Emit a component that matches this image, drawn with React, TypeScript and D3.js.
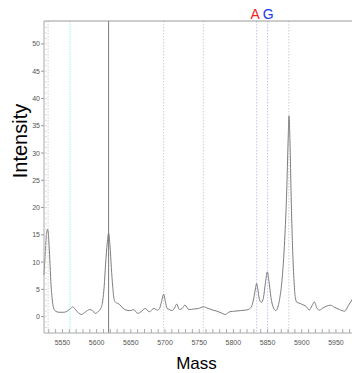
import React from "react";
import * as d3 from "d3";

// chart size
const width = 352;
const height = 373;
const margin = { top: 21, right: 0, bottom: 40, left: 44 };

// spectrum trace (mass, intensity)
const masses = [
  5523, 5525, 5527, 5528.5, 5530, 5531.5, 5533, 5535, 5537, 5540, 5545, 5552,
  5558, 5562, 5565, 5569, 5574, 5578, 5583, 5590, 5594, 5598, 5602, 5606, 5609,
  5611, 5613, 5615.5, 5617.5, 5619.5, 5621.5, 5623.5, 5625.5, 5628, 5633, 5638,
  5643, 5649, 5654, 5660, 5665, 5671, 5677, 5684, 5689, 5692, 5695, 5698,
  5700.5, 5703, 5707, 5710, 5714, 5717, 5721, 5725, 5729, 5735, 5742, 5749,
  5756, 5763, 5770, 5776, 5782, 5788, 5795, 5802, 5810, 5818, 5822, 5827, 5830,
  5832.5, 5834, 5835.5, 5838, 5841, 5844, 5847, 5849.7, 5852, 5855, 5858, 5862,
  5866, 5868, 5871, 5875, 5878, 5880, 5881.4, 5882.8, 5884.5, 5886.5, 5888.5,
  5890.6, 5893, 5898, 5903, 5907, 5911, 5915, 5918.5, 5922, 5926, 5931, 5936,
  5942, 5948, 5955, 5963, 5968, 5974,
];
const intensities = [
  7.6, 12, 15.5, 16, 14, 10.5, 6.5, 3.2, 1.6, 1.0, 0.8, 0.8,
  1.1, 1.5, 1.8, 1.3, 0.6, 0.4, 0.8, 1.3, 1.1, 0.6, 0.9, 1.5, 3.0,
  5.5, 9.5, 13.5, 15.3, 13, 9, 5.5, 3.2, 2.6, 2.3, 1.6,
  1.2, 1.1, 1.3, 0.6, 0.9, 1.5, 0.9, 1.5, 1.2, 1.5, 2.8, 4.1,
  2.8, 1.5, 1.3, 1.1, 1.6, 2.3, 1.3, 1.5, 2.1, 1.3, 1.4, 1.5,
  1.8, 1.5, 1.2, 1.0, 0.7, 0.4, 0.9, 1.0, 1.1, 1.2, 1.3, 2.0, 3.5,
  5.3, 6.1, 5.2, 3.2, 2.6, 3.5, 6.3, 8.2, 6.5, 3.5, 1.8, 1.1,
  2.2, 3.5, 6.5, 14, 23, 32, 36.8, 32, 22, 13, 7,
  3.5, 2.6, 2.4, 2.1, 1.8, 1.2, 2.0, 2.7, 1.6, 1.2, 1.6, 1.9,
  2.1, 1.7, 1.3, 1.0, 2.0, 3.2,
];

// marker lines
const markerMasses = [5529, 5561, 5617.5, 5698, 5756, 5834, 5850, 5881];
const markerKinds = ["grey", "cyan", "dark", "grey", "grey", "blue", "blue", "grey"];

// base labels above the plot
const baseLabels = ["A", "G"];
const baseMasses = [5832, 5851];
const baseColors = ["#ee2222", "#2233ee"];

const xTicks = [5550, 5600, 5650, 5700, 5750, 5800, 5850, 5900, 5950];
const yTicks = [0, 5, 10, 15, 20, 25, 30, 35, 40, 45, 50];

const lineStyle: Record<string, { stroke: string; dash: string }> = {
  grey: { stroke: "#cfcfdc", dash: "1.5,1.5" },
  cyan: { stroke: "#a8ecf0", dash: "1.5,1" },
  dark: { stroke: "#7a7a7a", dash: "" },
  blue: { stroke: "#c6c6f4", dash: "1.5,1.5" },
};

const tickFont = "'Liberation Sans Narrow', 'Arial Narrow', sans-serif";
const labelFont = "'Liberation Sans', Arial, sans-serif";

export default function App() {
  const x = d3
    .scaleLinear()
    .domain([5523, 5973.5])
    .range([margin.left, width - margin.right]);
  const y = d3
    .scaleLinear()
    .domain([-3, 54.2])
    .range([height - margin.bottom, margin.top]);

  const points = masses.map((m, i) => [m, intensities[i]] as [number, number]);
  const line = d3
    .line<[number, number]>()
    .x((d) => x(d[0]))
    .y((d) => y(d[1]))
    .curve(d3.curveMonotoneX);

  const minorX = d3.range(5530, 5971, 10);
  const minorY = d3.range(-2, 55, 1);
  const bottom = height - margin.bottom;

  return (
    <svg
      width={width}
      height={height}
      style={{ position: "absolute", left: 0, top: 0, background: "#fff" }}
    >
      {/* marker lines */}
      {markerMasses.map((m, i) => {
        const s = lineStyle[markerKinds[i]];
        return (
          <line
            key={"mk" + i}
            x1={x(m)}
            x2={x(m)}
            y1={margin.top}
            y2={bottom}
            stroke={s.stroke}
            strokeWidth={1}
            strokeDasharray={s.dash}
          />
        );
      })}

      {/* trace */}
      <path d={line(points) || ""} fill="none" stroke="#7d7d7d" strokeWidth={1} />

      {/* frame */}
      <line x1={margin.left} x2={width} y1={margin.top} y2={margin.top} stroke="#999" />
      <line x1={margin.left} x2={margin.left} y1={margin.top} y2={bottom} stroke="#aaa" />
      <line x1={margin.left} x2={width} y1={bottom} y2={bottom} stroke="#aaa" />

      {/* y axis ticks */}
      {minorY.map((v) => (
        <line
          key={"my" + v}
          x1={margin.left + 1}
          x2={margin.left + 3}
          y1={y(v)}
          y2={y(v)}
          stroke="#ddd"
        />
      ))}
      {yTicks.map((v) => (
        <g key={"yt" + v}>
          <line x1={margin.left - 3} x2={margin.left} y1={y(v)} y2={y(v)} stroke="#999" />
          <text
            x={margin.left - 4}
            y={y(v) + 2.5}
            textAnchor="end"
            fontSize={7}
            fontFamily={tickFont}
            fill="#555"
          >
            {v}
          </text>
        </g>
      ))}

      {/* x axis ticks */}
      {minorX.map((v) => (
        <line key={"mx" + v} x1={x(v)} x2={x(v)} y1={bottom} y2={bottom - 4} stroke="#aaa" />
      ))}
      {xTicks.map((v) => (
        <text
          key={"xt" + v}
          x={x(v)}
          y={bottom + 12}
          textAnchor="middle"
          fontSize={7}
          fontFamily={tickFont}
          fill="#555"
        >
          {v}
        </text>
      ))}

      {/* base labels */}
      {baseLabels.map((b, i) => (
        <text
          key={b}
          x={x(baseMasses[i])}
          y={19}
          textAnchor="middle"
          fontSize={14}
          fontFamily={labelFont}
          fill={baseColors[i]}
        >
          {b}
        </text>
      ))}

      {/* axis titles */}
      <text
        transform={`translate(27,141) rotate(-90)`}
        textAnchor="middle"
        fontSize={20}
        fontFamily={labelFont}
        fill="#000"
      >
        Intensity
      </text>
      <text
        x={196.5}
        y={369}
        textAnchor="middle"
        fontSize={17}
        fontFamily={labelFont}
        fill="#000"
      >
        Mass
      </text>
    </svg>
  );
}
